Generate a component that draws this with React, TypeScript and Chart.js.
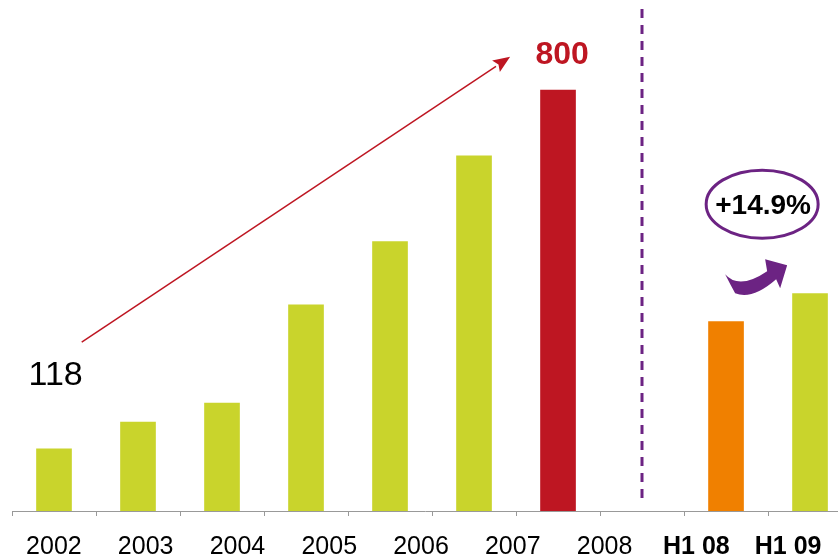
import React, { useEffect, useRef } from 'react';
import { Chart, registerables } from 'chart.js';

Chart.register(...registerables);

// Axis labels (shown under the chart)
const xLabels = ['2002', '2003', '2004', '2005', '2006', '2007', '2008', 'H1 08', 'H1 09'];
const boldLabels = ['H1 08', 'H1 09'];

// Bars, one per slot (slot 7 is the empty gap at the divider)
const barValues: (number | null)[] = [118, 169, 205, 392, 512, 675, 800, null, 360, 413];
const GREEN = '#C9D42C';
const RED = '#BE1622';
const ORANGE = '#F08000';
const PURPLE = '#6C2383';
const barColors = [GREEN, GREEN, GREEN, GREEN, GREEN, GREEN, RED, 'transparent', ORANGE, GREEN];

// Annotations
const startLabel = '118';
const peakLabel = '800';
const growthLabel = '+14.9%';
const dividerSlot = 7.5;
const trendFrom = { x: 0.83, y: 321 };
const trendTo = { x: 5.93, y: 863 };
const startLabelPos = { x: 0.52, y: 258 };
const peakLabelPos = { x: 6.55, y: 866 };
const growthPos = { x: 8.93, y: 583 };
const Y_MAX = 971;
const X_MAX = 9.833;

const annotations = {
  id: 'annotations',
  afterDatasetsDraw(chart: any) {
    const { ctx, scales, chartArea } = chart;
    const xs = scales.x;
    const ys = scales.y;
    const px = (v: number) => xs.getPixelForValue(v);
    const py = (v: number) => ys.getPixelForValue(v);
    ctx.save();

    // dashed divider
    ctx.strokeStyle = PURPLE;
    ctx.lineWidth = 3;
    ctx.setLineDash([9, 7]);
    ctx.beginPath();
    const dx = Math.round(px(dividerSlot));
    ctx.moveTo(dx, chartArea.top + 9);
    ctx.lineTo(dx, chartArea.bottom - 6);
    ctx.stroke();
    ctx.setLineDash([]);

    // trend arrow
    const x1 = px(trendFrom.x), y1 = py(trendFrom.y);
    const x2 = px(trendTo.x), y2 = py(trendTo.y);
    ctx.strokeStyle = RED;
    ctx.fillStyle = RED;
    ctx.lineWidth = 1.5;
    const ang = Math.atan2(y2 - y1, x2 - x1);
    const hl = 17, hw = 7;
    const bx = x2 - hl * Math.cos(ang), by = y2 - hl * Math.sin(ang);
    ctx.beginPath();
    ctx.moveTo(x1, y1);
    ctx.lineTo(bx, by);
    ctx.stroke();
    ctx.beginPath();
    ctx.moveTo(x2, y2);
    ctx.lineTo(bx + hw * Math.sin(ang), by - hw * Math.cos(ang));
    ctx.lineTo(bx + 3 * Math.cos(ang), by + 3 * Math.sin(ang));
    ctx.lineTo(bx - hw * Math.sin(ang), by + hw * Math.cos(ang));
    ctx.closePath();
    ctx.fill();

    // texts
    ctx.textAlign = 'center';
    ctx.textBaseline = 'middle';
    ctx.fillStyle = '#000';
    ctx.font = '34px "Liberation Sans", Arial, sans-serif';
    ctx.fillText(startLabel, px(startLabelPos.x), py(startLabelPos.y));
    ctx.fillStyle = RED;
    ctx.font = 'bold 32px "Liberation Sans", Arial, sans-serif';
    ctx.fillText(peakLabel, px(peakLabelPos.x), py(peakLabelPos.y));

    // growth bubble
    const gx = px(growthPos.x), gy = py(growthPos.y);
    ctx.strokeStyle = PURPLE;
    ctx.lineWidth = 3;
    ctx.beginPath();
    ctx.ellipse(gx, gy, 56, 34, 0, 0, Math.PI * 2);
    ctx.stroke();
    ctx.fillStyle = '#000';
    ctx.font = 'bold 28px "Liberation Sans", Arial, sans-serif';
    ctx.fillText(growthLabel, gx + 1, gy + 2);

    // curved growth arrow (relative to the bubble)
    const ax = gx - 37, ay = gy + 70;
    const p = (dx2: number, dy2: number) => [ax + dx2, ay + dy2] as [number, number];
    ctx.fillStyle = PURPLE;
    ctx.beginPath();
    ctx.moveTo(...p(0, 0));
    ctx.quadraticCurveTo(...p(14, 16), ...p(42, -3));
    ctx.lineTo(...p(40, -15));
    ctx.lineTo(...p(62, -9));
    ctx.lineTo(...p(55, 14));
    ctx.lineTo(...p(51, 5));
    ctx.quadraticCurveTo(...p(27, 26), ...p(10, 19));
    ctx.quadraticCurveTo(...p(5, 10), ...p(0, 0));
    ctx.closePath();
    ctx.fill();

    ctx.restore();
  },
};

export default function App() {
  const ref = useRef<HTMLCanvasElement | null>(null);
  useEffect(() => {
    document.body.style.margin = '0';
    const canvas = ref.current;
    if (!canvas) return;
    const points = barValues
      .map((v, i) => ({ x: i + 0.5, y: v }))
      .filter((d) => d.y !== null);
    const colors = barValues
      .map((v, i) => ({ v, c: barColors[i] }))
      .filter((d) => d.v !== null)
      .map((d) => d.c);
    const chart = new Chart(canvas, {
      type: 'bar',
      data: {
        datasets: [
          {
            data: points as any,
            backgroundColor: colors,
            barThickness: 35,
            borderWidth: 0,
          },
        ],
      },
      options: {
        animation: false,
        responsive: false,
        devicePixelRatio: 1,
        layout: { padding: { left: 12, right: 0, top: 0, bottom: 0 } },
        plugins: { legend: { display: false }, tooltip: { enabled: false } },
        scales: {
          x: {
            type: 'linear',
            position: 'bottom',
            min: 0,
            max: X_MAX,
            offset: false,
            weight: 0,
            afterFit: (s: any) => { s.height = 5; },
            ticks: { display: false, stepSize: 1, includeBounds: false },
            grid: { offset: false, drawOnChartArea: false, drawTicks: true, tickLength: 5, color: '#999' },
            border: { display: true, color: '#999', width: 1 },
          },
          x2: {
            type: 'category',
            labels: xLabels,
            position: 'bottom',
            offset: true,
            weight: 1,
            afterFit: (s: any) => { s.height = 41; },
            grid: { display: false },
            border: { display: false },
            ticks: {
              padding: 11,
              labelOffset: -4,
              color: '#000',
              maxRotation: 0,
              autoSkip: false,
              font: (c: any) => ({
                family: '"Liberation Sans", Arial, sans-serif',
                size: 25,
                lineHeight: 1,
                weight: boldLabels.includes(xLabels[c.index]) ? 'bold' : 'normal',
              }),
            },
          },
          y: {
            display: false,
            min: 0,
            max: Y_MAX,
          },
        },
      },
      plugins: [annotations],
    });
    return () => chart.destroy();
  }, []);
  return <canvas ref={ref} width={838} height={557} style={{ display: 'block' }} />;
}
